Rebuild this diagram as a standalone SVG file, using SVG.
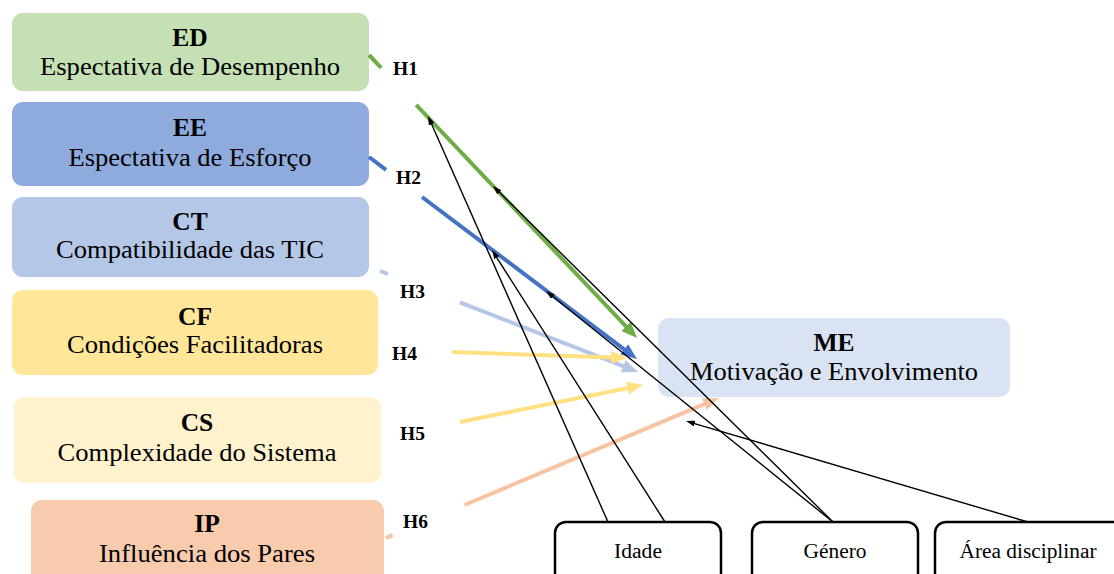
<svg xmlns="http://www.w3.org/2000/svg" width="1114" height="574" viewBox="0 0 1114 574" font-family="'Liberation Serif', 'DejaVu Serif', serif">
<style>
text{font-family:'Liberation Serif','DejaVu Serif',serif;fill:#000}
.t{font-size:25.5px;text-anchor:middle}
.b{font-weight:bold}
.h{font-size:19.5px;font-weight:bold}
.s{font-size:20px;text-anchor:middle}
.box{stroke:none}
.wb{fill:#fff;stroke:#000;stroke-width:2.5}
.c{fill:none;stroke-width:4}
.k{fill:none;stroke:#000;stroke-width:1.4}
</style>
<defs>
<marker id="mg" markerUnits="userSpaceOnUse" viewBox="0 0 16 13" markerWidth="16" markerHeight="13" refX="2" refY="6.5" orient="auto"><path d="M0,0L16,6.5L0,13z" fill="#70AD47"/></marker>
<marker id="mb" markerUnits="userSpaceOnUse" viewBox="0 0 16 13" markerWidth="16" markerHeight="13" refX="2" refY="6.5" orient="auto"><path d="M0,0L16,6.5L0,13z" fill="#4472C4"/></marker>
<marker id="ml" markerUnits="userSpaceOnUse" viewBox="0 0 16 13" markerWidth="16" markerHeight="13" refX="2" refY="6.5" orient="auto"><path d="M0,0L16,6.5L0,13z" fill="#B4C7E7"/></marker>
<marker id="my" markerUnits="userSpaceOnUse" viewBox="0 0 16 13" markerWidth="16" markerHeight="13" refX="2" refY="6.5" orient="auto"><path d="M0,0L16,6.5L0,13z" fill="#FFE083"/></marker>
<marker id="mo" markerUnits="userSpaceOnUse" viewBox="0 0 16 13" markerWidth="16" markerHeight="13" refX="2" refY="6.5" orient="auto"><path d="M0,0L16,6.5L0,13z" fill="#F8C3A0"/></marker>
<marker id="mk" markerUnits="userSpaceOnUse" viewBox="0 0 9 6" markerWidth="9" markerHeight="6" refX="1" refY="3" orient="auto"><path d="M0,0L9,3L0,6z" fill="#000"/></marker>
</defs>
<rect width="1114" height="574" fill="#fff"/>
<g id="ED"><rect class="box" x="12" y="13" width="357" height="78" rx="11" fill="#C5E0B4"/><text class="t b" x="190" y="46">ED</text><text class="t" x="190" y="75" textLength="300" lengthAdjust="spacingAndGlyphs">Espectativa de Desempenho</text></g>
<g id="EE"><rect class="box" x="12" y="102" width="357" height="84" rx="11" fill="#8FAADC"/><text class="t b" x="190" y="136">EE</text><text class="t" x="190" y="166" textLength="243" lengthAdjust="spacingAndGlyphs">Espectativa de Esforço</text></g>
<g id="CT"><rect class="box" x="12" y="197" width="357" height="80" rx="11" fill="#B4C7E7"/><text class="t b" x="190" y="230">CT</text><text class="t" x="190" y="258" textLength="268" lengthAdjust="spacingAndGlyphs">Compatibilidade das TIC</text></g>
<g id="CF"><rect class="box" x="12" y="290" width="366" height="85" rx="11" fill="#FFE699"/><text class="t b" x="195" y="325">CF</text><text class="t" x="195" y="353" textLength="256" lengthAdjust="spacingAndGlyphs">Condições Facilitadoras</text></g>
<g id="CS"><rect class="box" x="14" y="397" width="367" height="86" rx="11" fill="#FFF2CC"/><text class="t b" x="197" y="431">CS</text><text class="t" x="197" y="461" textLength="279" lengthAdjust="spacingAndGlyphs">Complexidade do Sistema</text></g>
<g id="IP"><rect class="box" x="31" y="500" width="353" height="84" rx="11" fill="#F8CBAD"/><text class="t b" x="207" y="532">IP</text><text class="t" x="207" y="562" textLength="216" lengthAdjust="spacingAndGlyphs">Influência dos Pares</text></g>
<g id="ME"><rect class="box" x="658" y="318" width="352" height="79" rx="11" fill="#DAE3F3"/><text class="t b" x="834" y="351">ME</text><text class="t" x="834" y="380" textLength="288" lengthAdjust="spacingAndGlyphs">Motivação e Envolvimento</text></g>
<g id="Idade"><rect class="wb" x="555" y="522" width="166" height="70" rx="11"/><text class="s" x="638" y="558" textLength="48" lengthAdjust="spacingAndGlyphs">Idade</text></g>
<g id="Genero"><rect class="wb" x="752" y="522" width="166" height="70" rx="11"/><text class="s" x="835" y="558" textLength="63" lengthAdjust="spacingAndGlyphs">Género</text></g>
<g id="Area"><rect class="wb" x="935" y="522" width="200" height="70" rx="11"/><text class="s" x="1028" y="558" textLength="137" lengthAdjust="spacingAndGlyphs">Área disciplinar</text></g>
<g id="connectors">
<path class="c" d="M369,55L627.4,327.8" stroke="#70AD47" stroke-dasharray="17.7 50.9 1000" marker-end="url(#mg)"/>
<path class="c" d="M369,157L625.8,350.6" stroke="#4472C4" stroke-dasharray="21.4 45 1000" marker-end="url(#mb)"/>
<path class="c" d="M380,271L625,366.9" stroke="#B4C7E7" stroke-dasharray="8.5 77.3 1000" marker-end="url(#ml)"/>
<path class="c" d="M452,352L613,357.5" stroke="#FFE083" marker-end="url(#my)"/>
<path class="c" d="M460,422L629.3,387.8" stroke="#FFE083" marker-end="url(#my)"/>
<path class="c" d="M386,538L706.1,403.4" stroke="#F8C3A0" stroke-dasharray="7.2 78 1000" marker-end="url(#mo)"/>
<path class="k" d="M608,522L431.2,123.3" marker-end="url(#mk)"/>
<path class="k" d="M665,522L496.3,256.8" marker-end="url(#mk)"/>
<path class="k" d="M833,522L498.7,191.6" marker-end="url(#mk)"/>
<path class="k" d="M833,522L552.2,296" marker-end="url(#mk)"/>
<path class="k" d="M1028,522L693.7,423.3" marker-end="url(#mk)"/>
</g>
<g id="labels">
<text class="h" x="393" y="75">H1</text>
<text class="h" x="396" y="184">H2</text>
<text class="h" x="400" y="298">H3</text>
<text class="h" x="392" y="360">H4</text>
<text class="h" x="400" y="440">H5</text>
<text class="h" x="403" y="528">H6</text>
</g>
</svg>
